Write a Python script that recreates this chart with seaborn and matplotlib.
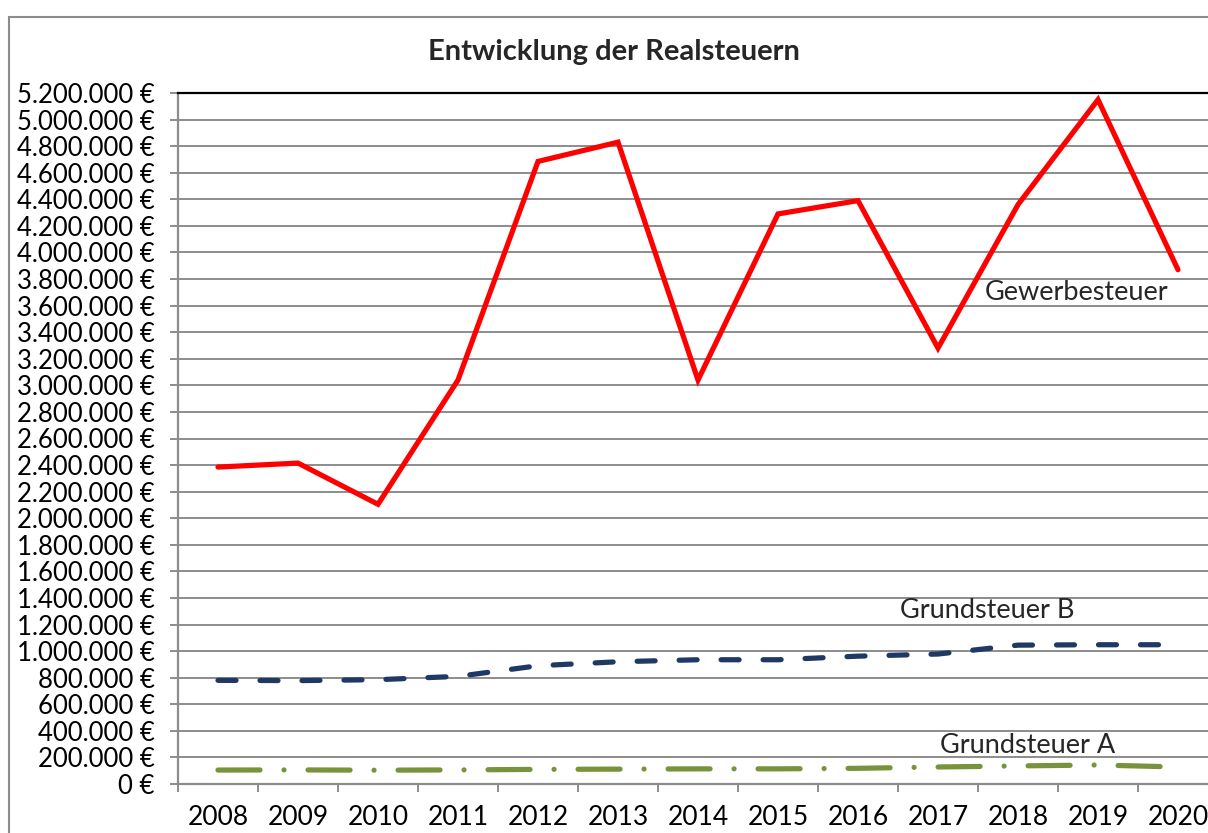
import numpy as np
import pandas as pd
import matplotlib
matplotlib.use("Agg")
import matplotlib.pyplot as plt
from matplotlib.ticker import FuncFormatter, FixedLocator
from matplotlib.patches import Rectangle
import seaborn as sns

years = [2008, 2009, 2010, 2011, 2012, 2013, 2014, 2015, 2016, 2017, 2018, 2019, 2020]
gewerbesteuer = [2385000, 2415000, 2105000, 3040000, 4685000, 4830000, 3040000,
                 4290000, 4390000, 3280000, 4360000, 5150000, 3870000]
grundsteuer_b = [780000, 778000, 785000, 810000, 890000, 920000, 935000,
                 935000, 962000, 978000, 1045000, 1048000, 1048000]
grundsteuer_a = [105000, 106000, 104000, 106000, 110000, 112000, 114000,
                 114000, 118000, 128000, 136000, 143000, 128000]
series_names = ["Gewerbesteuer", "Grundsteuer B", "Grundsteuer A"]
title = "Entwicklung der Realsteuern"

sns.set_theme(style="white")
plt.rcParams["font.family"] = ["Lato", "DejaVu Sans"]
plt.rcParams["lines.scale_dashes"] = False

W, H = 1208, 833
fig = plt.figure(figsize=(W / 100, H / 100), dpi=100)
fig.patch.set_facecolor("white")

# outer chart border (left/top visible, right/bottom cut off)
fig.add_artist(Rectangle((9 / W, -0.1), 1.2, (833 - 17) / H + 0.1,
                         transform=fig.transFigure, fill=False,
                         edgecolor="#8c8c8c", linewidth=1.5, zorder=0))

left, right, top, bottom = 178, 1218, 93, 784
ax = fig.add_axes([left / W, 1 - bottom / H, (right - left) / W, (bottom - top) / H])
ax.set_facecolor("white")

df = pd.DataFrame({"Jahr": years, "Gewerbesteuer": gewerbesteuer,
                   "Grundsteuer B": grundsteuer_b, "Grundsteuer A": grundsteuer_a})

px = 0.72  # points per pixel at dpi 100
lw = 5.2 * px
sns.lineplot(data=df, x="Jahr", y="Gewerbesteuer", color="#ff0000", linewidth=lw,
             ax=ax, zorder=5, solid_capstyle="round", solid_joinstyle="miter")
sns.lineplot(data=df, x="Jahr", y="Grundsteuer B", color="#1f3864", linewidth=lw,
             ax=ax, zorder=5)
sns.lineplot(data=df, x="Jahr", y="Grundsteuer A", color="#77933c", linewidth=lw,
             ax=ax, zorder=5)
lines = ax.get_lines()
lines[1].set_dashes((18 * px, 24 * px))
lines[1].set_dash_capstyle("round")
lines[2].set_dashes((42 * px, 24 * px, 0.01, 24 * px))
lines[2].set_dash_capstyle("round")

ax.set_xlim(2007.5, 2020.5)
ax.set_ylim(0, 5200000)

yt = np.arange(0, 5200001, 200000)
ax.yaxis.set_major_locator(FixedLocator(yt))
def fmt(v, pos):
    return "{:,.0f} €".format(v).replace(",", ".")
ax.yaxis.set_major_formatter(FuncFormatter(fmt))

ax.xaxis.set_major_locator(FixedLocator(np.arange(2007.5, 2021.0, 1.0)))
ax.xaxis.set_major_formatter(FuncFormatter(lambda v, p: ""))
ax.xaxis.set_minor_locator(FixedLocator(years))
ax.xaxis.set_minor_formatter(FuncFormatter(lambda v, p: str(int(round(v)))))

ax.grid(axis="y", color="#8c8c8c", linewidth=1.4)
ax.grid(axis="x", visible=False)
ax.set_axisbelow(True)

ax.spines["right"].set_visible(False)
ax.spines["top"].set_color("black")
ax.spines["top"].set_linewidth(1.6)
ax.spines["left"].set_color("#8c8c8c")
ax.spines["left"].set_linewidth(1.6)
ax.spines["bottom"].set_color("#8c8c8c")
ax.spines["bottom"].set_linewidth(1.6)

ax.tick_params(axis="y", which="major", direction="out", length=8 * px, width=1.4,
               color="#8c8c8c", left=True, labelsize=18.5, pad=11, labelcolor="black")
ax.tick_params(axis="x", which="major", direction="out", length=8 * px, width=1.4,
               color="#8c8c8c", bottom=True)
ax.tick_params(axis="x", which="minor", length=0, labelsize=19, pad=15,
               labelcolor="black", bottom=True)
ax.set_xlabel("")
ax.set_ylabel("")

ax.text(2018.73, 3695000, series_names[0], fontsize=19.5, ha="center", va="center", zorder=6)
ax.text(2017.61, 1309000, series_names[1], fontsize=19.5, ha="center", va="center", zorder=6)
ax.text(2018.12, 293000, series_names[2], fontsize=19.5, ha="center", va="center", zorder=6)

fig.text(614 / W, 1 - 52 / H, title, fontsize=21, fontweight="bold",
         ha="center", va="center")

fig.savefig("out.png", dpi=100, facecolor="white")
